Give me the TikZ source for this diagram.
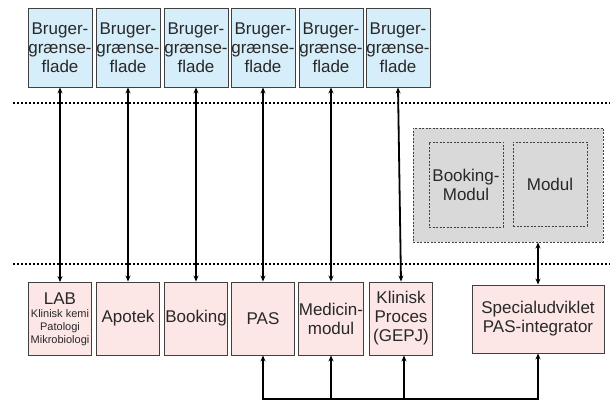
\documentclass[tikz,border=0pt]{standalone}
\usepackage{fontspec}
\setmainfont{Liberation Sans}
\usetikzlibrary{arrows.meta}
\definecolor{topfill}{RGB}{214,238,250}
\definecolor{botfill}{RGB}{252,230,230}
\definecolor{greyfill}{RGB}{217,217,217}
\definecolor{edgecol}{RGB}{64,64,64}
\definecolor{txtcol}{RGB}{40,40,40}
\tikzset{
  topbox/.style={draw=edgecol, line width=0.9pt, fill=topfill, minimum width=64pt, minimum height=79pt, inner sep=0pt, align=center, text=txtcol, font=\fontsize{17}{19}\selectfont},
  botbox/.style={draw=edgecol, line width=0.9pt, fill=botfill, minimum width=63pt, minimum height=73pt, inner sep=0pt, align=center, text=txtcol, font=\fontsize{17}{19}\selectfont},
  greybox/.style={draw=edgecol, line width=0.9pt, dash pattern=on 2pt off 1.5pt, fill=greyfill, inner sep=0pt, align=center, text=txtcol, font=\fontsize{17}{19}\selectfont},
  biarrow/.style={line width=1.8pt, {Stealth[length=6pt,width=5pt]}-{Stealth[length=6pt,width=5pt]}},
  uparrow/.style={line width=1.8pt, -{Stealth[length=6pt,width=5pt]}},
  dotline/.style={line width=1.6pt, dash pattern=on 2pt off 2pt, black}
}
\begin{document}
\begin{tikzpicture}[x=1pt,y=-1pt]
\useasboundingbox (0,0) rectangle (610,403);
% dotted separators
\coordinate (d1a) at (13,103); \coordinate (d1b) at (610,103);
\coordinate (d2a) at (13,264); \coordinate (d2b) at (610,264);
\draw[dotline] (d1a) -- (d1b);
\draw[dotline] (d2a) -- (d2b);
% top boxes
\foreach \i/\x in {1/60,2/128,3/196,4/263,5/331,6/398}{
  \node[topbox] (t\i) at (\x,47.5) {Bruger-\\græn\-se-\\flade};
}
% bottom boxes
\node[botbox, font=\fontsize{11}{13}\selectfont] (b1) at (60,319) {{\fontsize{17}{17}\selectfont LAB}\\Klinisk kemi\\Patologi\\Mikrobiologi};
\node[botbox] (b2) at (128,318.5) {Apotek};
\node[botbox] (b3) at (196,318.5) {Booking};
\node[botbox] (b4) at (263,318.5) {PAS};
\node[botbox] (b5) at (331,318.5) {Medicin-\\modul};
\node[botbox] (b6) at (401,318.5) {Klinisk\\Proces\\(GEPJ)};
\node[botbox, minimum width=132pt, minimum height=68pt] (sp) at (538,319) {Specialudviklet\\PAS-integrator};
% grey module box
\node[greybox, minimum width=190pt, minimum height=114pt] (gb) at (508,185) {};
\node[greybox, minimum width=74pt, minimum height=85pt] (bm) at (466,184.5) {Booking-\\Modul};
\node[greybox, minimum width=74pt, minimum height=84pt] (md) at (550,184) {Modul};
% vertical connectors
\foreach \i in {1,...,6}{
  \draw[biarrow] (t\i.south) -- (b\i.north);
}
\draw[biarrow] (gb.south -| sp.north) -- (sp.north);
% bus
\coordinate (bus) at (0,399);
\draw[biarrow] (b4.south) -- (b4.south |- bus) -- (sp.south |- bus) -- (sp.south);
\draw[uparrow] (b5.south |- bus) -- (b5.south);
\draw[uparrow] ([xshift=3pt]b6.south |- bus) -- ([xshift=3pt]b6.south);
\end{tikzpicture}
\end{document}
